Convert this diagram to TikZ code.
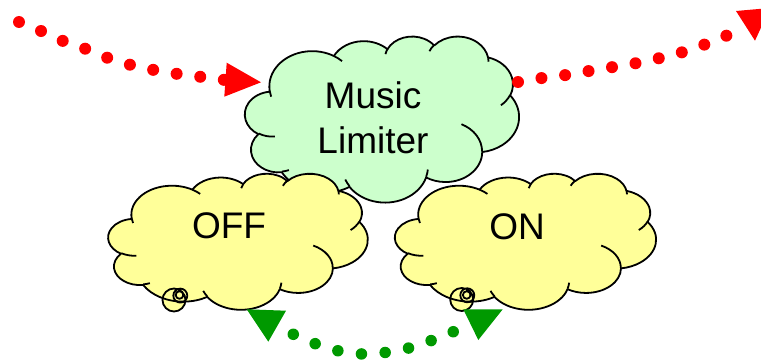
\documentclass[tikz,border=0pt]{standalone}
\usepackage{fontspec}
\setmainfont{Liberation Sans}
\definecolor{cloudgreen}{HTML}{CCFFCC}
\definecolor{cloudyellow}{HTML}{FFFF99}
\definecolor{arrowred}{HTML}{FF0000}
\definecolor{arrowgreen}{HTML}{009900}

% --- PowerPoint cloud geometry (path units 0..432) ---
\newcommand\cldsetbox[4]{%
  \pgfmathsetmacro\clOx{#1}\pgfmathsetmacro\clOy{#2}%
  \pgfmathsetmacro\clSx{#3/432}\pgfmathsetmacro\clSy{#4/432}}
\newcommand\cldmove[2]{%
  \pgfmathsetmacro\clX{\clOx+(#1)*\clSx}%
  \pgfmathsetmacro\clY{0-(\clOy+(#2)*\clSy)}%
  \pgfpathmoveto{\pgfpoint{\clX pt}{\clY pt}}}
\newcommand\cldarc[4]{%
  \pgfmathsetmacro\clAa{#3}\pgfmathsetmacro\clAb{#3+#4}%
  \pgfmathsetmacro\clTa{atan2((#1)*sin(\clAa),(#2)*cos(\clAa))}%
  \pgfmathsetmacro\clTb{atan2((#1)*sin(\clAb),(#2)*cos(\clAb))}%
  \pgfmathsetmacro\clDt{\clTb-(\clTa)}%
  \pgfmathsetmacro\clDt{ifthenelse(and(#4>0,\clDt<0),\clDt+360,ifthenelse(and(#4<0,\clDt>0),\clDt-360,\clDt))}%
  \pgfmathsetmacro\clRx{(#1)*\clSx}\pgfmathsetmacro\clRy{(#2)*\clSy}%
  \pgfmathsetmacro\clSa{0-(\clTa)}\pgfmathsetmacro\clEa{0-(\clTa)-(\clDt)}%
  \pgfpatharc{\clSa}{\clEa}{\clRx pt and \clRy pt}}
\newcommand\cldbody{%
  \cldmove{39.00}{143.70}%
  \cldarc{67.53}{91.90}{-190.487483}{123.780533}%
  \cldarc{53.33}{72.67}{-144.102383}{89.945233}%
  \cldarc{43.65}{59.45}{-145.807917}{99.723017}%
  \cldarc{48.57}{65.95}{-130.986067}{117.241733}%
  \cldarc{53.33}{72.73}{-78.708883}{109.026917}%
  \cldarc{67.75}{92.20}{-46.26725}{130.269}%
  \cldarc{57.85}{78.67}{0.625017}{114.033333}%
  \cldarc{67.52}{92.15}{22.4516}{115.17255}%
  \cldarc{77.20}{105.43}{66.242633}{75.711017}%
  \cldarc{43.60}{59.18}{-274.942083}{146.735567}%
  \cldarc{43.45}{59.45}{-246.8285}{152.51885}%
  \pgfpathclose}
\newcommand\cldinner{%
  \cldmove{46.93}{261.77}\cldarc{43.45}{59.45}{86.742}{26.4295}%
  \cldmove{69.28}{348.99}\cldarc{43.60}{59.18}{73.61047}{11.44747}%
  \cldmove{164.78}{390.90}\cldarc{67.52}{92.15}{137.62415}{14.0811}%
  \cldmove{288.27}{347.51}\cldarc{67.52}{92.15}{6.45327}{15.99835}%
  \cldmove{341.29}{229.54}\cldarc{57.85}{78.67}{-70.29235}{70.91737}%
  \cldmove{417.98}{153.54}\cldarc{53.33}{72.73}{30.31803}{27.7515}%
  \cldmove{383.24}{54.26}\cldarc{48.57}{65.95}{-13.74433}{14.8589}%
  \cldmove{290.78}{39.52}\cldarc{48.57}{65.95}{-149.18145}{18.19537}%
  \cldmove{221.41}{47.20}\cldarc{43.65}{59.45}{-163.49427}{17.68635}%
  \cldmove{140.00}{51.92}\cldarc{67.53}{91.90}{-66.70695}{12.31935}%
  \cldmove{41.27}{157.89}\cldarc{67.53}{91.90}{157.65435}{11.85817}}
\newcommand\cldtail[6]{% big (x,y), medium (x,y), small (x,y)
  \pgfpathcircle{\pgfpoint{#1pt}{-#2pt}}{11.5pt}%
  \pgfpathcircle{\pgfpoint{#3pt}{-#4pt}}{7pt}%
  \pgfpathcircle{\pgfpoint{#5pt}{-#6pt}}{3.8pt}}

\tikzset{
  reddots/.style={draw=arrowred, line width=12pt, line cap=round, dash pattern=on 0pt off 23.8pt},
  greendots/.style={draw=arrowgreen, line width=11.5pt, line cap=round, dash pattern=on 0pt off 23.8pt},
  cloudtext/.style={font=\fontsize{37}{45}\selectfont, inner sep=0pt, align=center},
}

\begin{document}
\begin{tikzpicture}[x=1pt,y=-1pt]
\useasboundingbox (0,0) rectangle (761,361);
\clip (0,0) rectangle (761,361);

% green cloud
\begin{pgfscope}
  \pgfsetlinewidth{1.8pt}\pgfsetroundjoin\pgfsetstrokecolor{black}\pgfsetfillcolor{cloudgreen}
  \cldsetbox{245}{36}{274}{166}
  \cldbody\pgfusepath{fill,stroke}
  \cldinner\pgfusepath{stroke}
\end{pgfscope}

% OFF cloud callout
\begin{pgfscope}
  \pgfsetlinewidth{1.8pt}\pgfsetroundjoin\pgfsetstrokecolor{black}\pgfsetfillcolor{cloudyellow}
  \cldsetbox{108.3}{173.3}{259.4}{136}
  \cldbody\pgfusepath{fill}
  \cldtail{174}{300}{180.3}{295.6}{179.5}{295}\pgfusepath{fill}
  \cldbody\pgfusepath{stroke}
  \cldinner\pgfusepath{stroke}
  \cldtail{174}{300}{180.3}{295.6}{179.5}{295}\pgfusepath{stroke}
\end{pgfscope}

% ON cloud callout
\begin{pgfscope}
  \pgfsetlinewidth{1.8pt}\pgfsetroundjoin\pgfsetstrokecolor{black}\pgfsetfillcolor{cloudyellow}
  \cldsetbox{395}{173.3}{261}{136}
  \cldbody\pgfusepath{fill}
  \cldtail{461.7}{299.5}{467.3}{295.3}{466.7}{295}\pgfusepath{fill}
  \cldbody\pgfusepath{stroke}
  \cldinner\pgfusepath{stroke}
  \cldtail{461.7}{299.5}{467.3}{295.3}{466.7}{295}\pgfusepath{stroke}
\end{pgfscope}

% texts
\node[cloudtext] (music) at (373,117.4) {Music\\Limiter};
\node[cloudtext, anchor=base] (off) at (229,238.3) {OFF};
\node[cloudtext, anchor=base] (on) at (517,239.7) {ON};

% red dotted arrows
\coordinate (rin) at (19,22);
\coordinate (rinend) at (225,80);
\draw[reddots] plot[smooth] coordinates {(rin) (41,31) (63,41) (86,49) (108,58) (131,65) (154,70) (178,74) (202,77) (rinend)};
\fill[arrowred] (226.7,62.7) -- (261,82.3) -- (224.3,96.7) -- cycle;

\coordinate (rout) at (518,82);
\coordinate (routend) at (728,35);
\draw[reddots] plot[smooth] coordinates {(rout) (542,78) (566,75) (589,71) (613,67) (637,63) (660,58) (683,52) (706,44) (routend)};
\fill[arrowred] (736,11) -- (770,8) -- (755,40.7) -- cycle;

% green dotted double arrow
\coordinate (gl) at (293.3,334.3);
\coordinate (gr) at (455,331);
\draw[greendots] plot[smooth] coordinates {(gl) (316,344) (339,351) (362.7,354) (386.7,352.3) (410,347.7) (432.7,340) (gr)};
\fill[arrowgreen] (246.7,309.3) -- (286,310.7) -- (268.3,341.7) -- cycle;
\fill[arrowgreen] (463.3,309.3) -- (502.7,309.3) -- (478.3,340) -- cycle;
\end{tikzpicture}
\end{document}
